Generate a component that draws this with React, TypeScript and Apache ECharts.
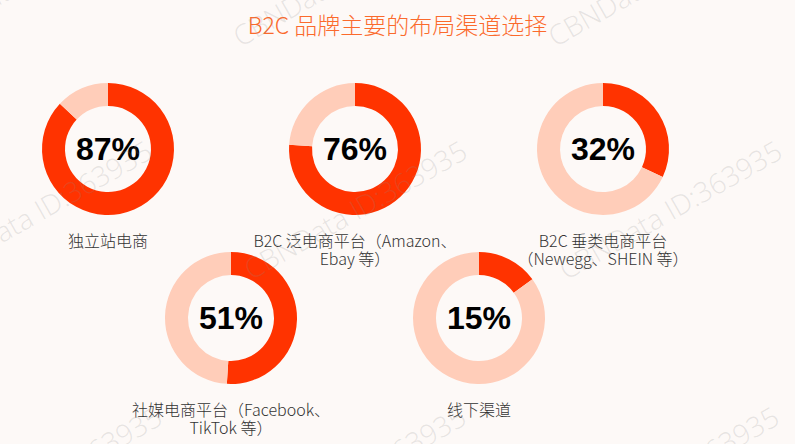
import React, { useEffect, useRef } from "react";
import * as echarts from "echarts";

const title = "B2C 品牌主要的布局渠道选择";
const categories = [
  "独立站电商",
  "B2C 泛电商平台（Amazon、\nEbay 等）",
  "B2C 垂类电商平台\n（Newegg、SHEIN 等）",
  "社媒电商平台（Facebook、\nTikTok 等）",
  "线下渠道",
];
const values = [87, 76, 32, 51, 15];

// layout (pixels)
const centers: [number, number][] = [
  [108, 149],
  [355, 149],
  [603, 149],
  [231, 318],
  [479, 318],
];
const watermark = "CBNData ID:363935";
const watermarkAnchors: [number, number][] = [
  [-73, 50], [242, 50], [557, 50],
  [-62, 283], [253, 283], [568, 283],
  [-52, 549], [252, 549], [565, 549],
];

const RED = "#FF3300";
const LIGHT = "#FFCDB9";

export default function App() {
  const ref = useRef<HTMLDivElement>(null);
  useEffect(() => {
    if (!ref.current) return;
    const chart = echarts.init(ref.current, null, { renderer: "svg" });
    const series = values.map((v, i) => ({
      type: "pie",
      center: centers[i],
      radius: [43, 66],
      startAngle: 90,
      clockwise: true,
      silent: true,
      avoidLabelOverlap: false,
      labelLine: { show: false },
      emphasis: { disabled: true },
      data: [
        {
          value: v,
          itemStyle: { color: RED },
          label: {
            show: true,
            position: "center",
            formatter: `${v}%`,
            fontSize: 32,
            fontWeight: "bold",
            color: "#000",
            fontFamily: "Liberation Sans, Arial, sans-serif",
          },
        },
        {
          value: 100 - v,
          itemStyle: { color: LIGHT },
          label: { show: false },
        },
      ],
    }));

    const labelTexts = categories.map((c, i) => ({
      type: "text",
      x: centers[i][0],
      y: centers[i][1] + 82,
      z: 10,
      style: {
        text: c,
        textAlign: "center",
        textVerticalAlign: "top",
        fontSize: 16,
        lineHeight: 18,
        fill: "#333",
        fontFamily: "Noto Sans CJK SC, sans-serif",
        fontWeight: 300,
      },
    }));

    const marks = watermarkAnchors.map(([x, y]) => ({
      type: "text",
      x,
      y,
      rotation: (29.5 * Math.PI) / 180,
      z: 100,
      silent: true,
      style: {
        text: watermark,
        textAlign: "left",
        textVerticalAlign: "bottom",
        fontSize: 28,
        fontWeight: 300,
        fontFamily: "Open Sans, Lato, sans-serif",
        fill: "rgba(140,140,140,0.2)",
      },
    }));

    chart.setOption({
      animation: false,
      backgroundColor: "#FDF9F7",
      title: {
        text: title,
        left: "center",
        top: 7,
        textStyle: {
          color: "#FB6A2C",
          fontSize: 23,
          fontWeight: 300,
          fontFamily: "Noto Sans CJK SC, sans-serif",
        },
      },
      series,
      graphic: [...labelTexts, ...marks],
    });
    return () => chart.dispose();
  }, []);
  return (
    <div
      ref={ref}
      style={{ position: "fixed", left: 0, top: 0, width: 795, height: 444 }}
    />
  );
}
